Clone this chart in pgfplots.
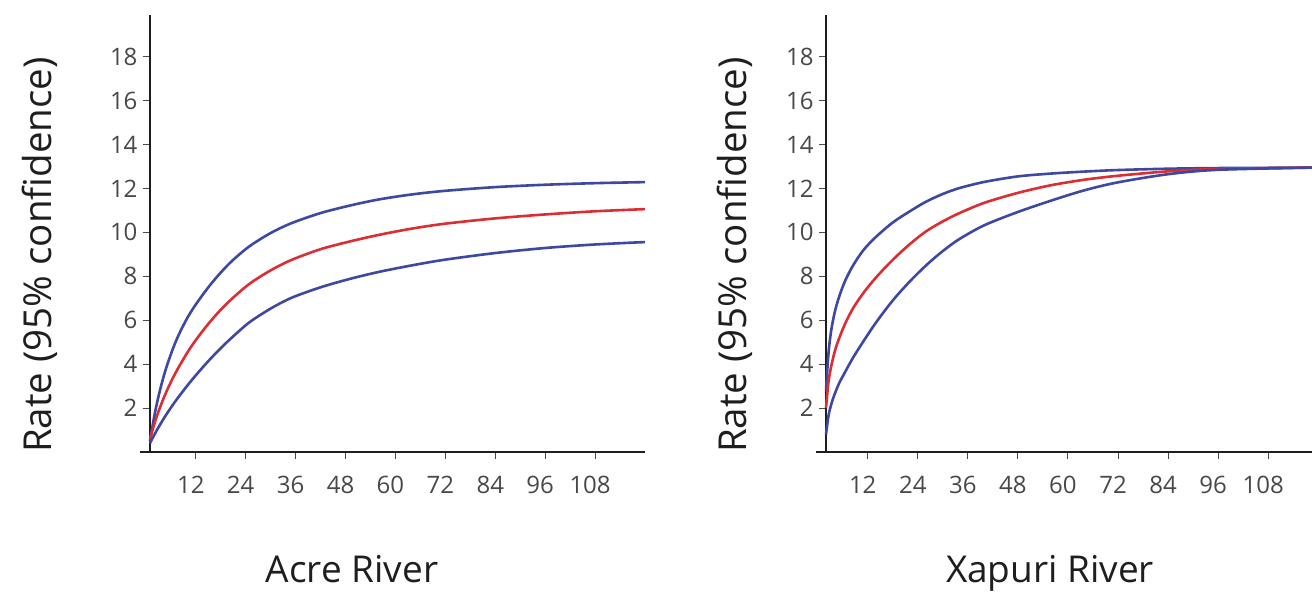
\documentclass[border=0pt]{standalone}
\usepackage{pgfplots}
\pgfplotsset{compat=1.18}
\usepackage{fontspec}
\setmainfont{Open Sans}

\definecolor{curveblue}{RGB}{60,72,162}
\definecolor{curvered}{RGB}{220,45,50}
\definecolor{tickgrey}{RGB}{72,72,72}
\definecolor{axisdark}{RGB}{30,30,30}

\pgfplotsset{
  riverpanel/.style={
    scale only axis,
    anchor=south west,
    axis x line=bottom,
    axis y line=left,
    axis line style={-, line width=2.4pt, axisdark},
    x axis line style={shorten <=-10pt},
    ymin=0, ymax=19.9,
    xtick={12,24,36,48,60,72,84,96,108},
    ytick={2,4,6,8,10,12,14,16,18},
    tick align=outside,
    major tick length=7pt,
    tick style={line width=1pt, tickgrey},
    /pgf/number format/assume math mode=true,
    ticklabel style={font=\fontsize{24}{24}\selectfont, text=tickgrey},
    xticklabel style={xshift=-5pt, yshift=-14pt},
    yticklabel style={xshift=-2pt},
    clip=false,
  },
  upper/.style={curveblue, line width=2.6pt, smooth, no marks},
  mid/.style={curvered, line width=2.6pt, smooth, no marks},
}

\begin{document}
\begin{tikzpicture}
\useasboundingbox (0pt,0pt) rectangle (1312pt,592pt);

% Acre River
\begin{axis}[riverpanel, at={(150pt,140pt)}, width=495pt, height=437pt,
  xmin=1, xmax=120]
\addplot[upper] coordinates {
  (1,0.5) (2,1.6) (3,2.5) (4,3.25) (5,3.89) (6.5,4.7) (8,5.375) (10,6.115)
  (12,6.715) (15,7.495) (18,8.17) (21,8.75) (25,9.38) (30,9.97)
  (35,10.42) (42,10.88) (49,11.22) (56,11.5) (64,11.73) (72,11.894)
  (84,12.062) (96,12.17) (108,12.242) (120,12.29)};
\addplot[mid] coordinates {
  (1,0.6) (2,1.25) (3,1.82) (4,2.32) (5,2.77) (6.5,3.37) (8,3.895)
  (10,4.535) (12,5.095) (15,5.83) (18,6.475) (21,7.03) (25,7.67) (30,8.27)
  (35,8.745) (42,9.235) (49,9.585) (56,9.886) (64,10.174) (72,10.398)
  (84,10.638) (96,10.818) (108,10.962) (120,11.06)};
\addplot[upper] coordinates {
  (1,0.4) (2,0.77) (3,1.11) (4,1.43) (5,1.73) (6.5,2.15) (8,2.54) (10,3.03)
  (12,3.49) (15,4.135) (18,4.726) (21,5.266) (25,5.92) (30,6.53)
  (35,7.02) (42,7.5) (49,7.88) (56,8.2) (64,8.5) (72,8.76)
  (84,9.06) (96,9.29) (108,9.45) (120,9.56)};
\end{axis}

% Xapuri River
\begin{axis}[riverpanel, at={(826pt,140pt)}, width=486pt, height=437pt,
  xmin=2, xmax=118.5]
\addplot[upper] coordinates {
  (2,2.8) (2.6,4.5) (3.3,5.6) (4.2,6.45) (5.2,7.1) (6.6,7.8) (8.5,8.5)
  (11,9.2) (14,9.8) (18,10.45) (22,10.95) (26,11.4) (30,11.75) (34,12.02)
  (40,12.3) (48,12.55) (56,12.68) (64,12.77) (72,12.84) (84,12.9)
  (96,12.93) (118.5,12.95)};
\addplot[mid] coordinates {
  (2,2.0) (2.6,3.2) (3.3,3.95) (4.2,4.65) (5.2,5.2) (6.6,5.85) (8.5,6.55)
  (11,7.25) (14,7.95) (18,8.75) (22,9.45) (26,10.05) (30,10.5) (34,10.88)
  (40,11.35) (48,11.8) (56,12.15) (64,12.4) (72,12.58) (84,12.78)
  (96,12.89) (118.5,12.95)};
\addplot[upper] coordinates {
  (2,0.8) (2.6,1.65) (3.3,2.2) (4.2,2.7) (5.2,3.15) (6.6,3.65) (8.5,4.3)
  (11,5.05) (14,5.9) (18,6.9) (22,7.75) (26,8.5) (30,9.15) (34,9.7)
  (40,10.33) (48,10.93) (56,11.45) (64,11.92) (72,12.28) (84,12.65)
  (96,12.85) (118.5,12.95)};
\end{axis}

\node[rotate=90, font=\fontsize{38.5}{38.5}\selectfont, text=axisdark]
  at (40pt,337pt) {Rate (95\% confidence)};
\node[rotate=90, font=\fontsize{38.5}{38.5}\selectfont, text=axisdark]
  at (735pt,337pt) {Rate (95\% confidence)};
\node[anchor=base, font=\fontsize{37}{37}\selectfont, text=axisdark]
  at (352pt,10pt) {Acre River};
\node[anchor=base, font=\fontsize{37}{37}\selectfont, text=axisdark]
  at (1050pt,10pt) {Xapuri River};
\end{tikzpicture}
\end{document}
